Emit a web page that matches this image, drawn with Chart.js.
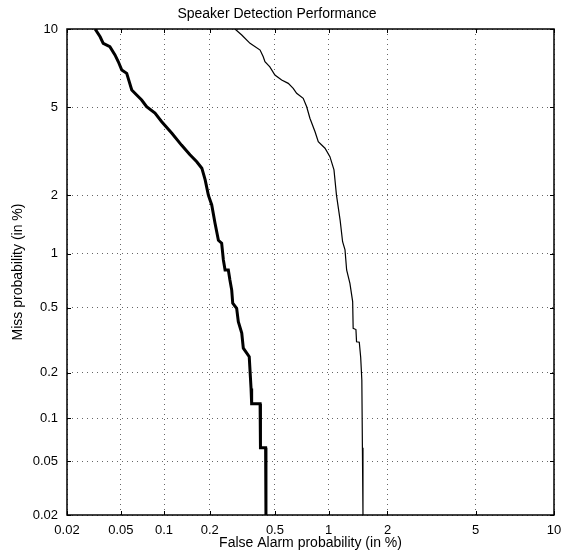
<!DOCTYPE html>
<html>
<head>
<meta charset="utf-8">
<script src="https://cdn.jsdelivr.net/npm/chart.js@4.4.0/dist/chart.umd.min.js"></script>
<style>
  html, body { margin: 0; padding: 0; background: #fff; }
  #wrap { width: 561px; height: 556px; position: relative; }
</style>
</head>
<body>
<div id="wrap"><canvas id="c" width="561" height="556"></canvas></div>
<script>
// ---- data (percent) ----
const tickValues = [0.02, 0.05, 0.1, 0.2, 0.5, 1, 2, 5, 10];
const tickLabels = ['0.02', '0.05', '0.1', '0.2', '0.5', '1', '2', '5', '10'];

const sys1FA = [0.0325, 0.0354, 0.0373, 0.0417, 0.0454, 0.048, 0.0508, 0.0551, 0.0598, 0.0648, 0.0702, 0.076, 0.0868, 0.0965, 0.113, 0.131, 0.149, 0.165, 0.178, 0.187, 0.196, 0.206, 0.216, 0.227, 0.238, 0.244, 0.25, 0.262, 0.268, 0.275, 0.279, 0.295, 0.302, 0.317, 0.324, 0.352, 0.361, 0.364, 0.409, 0.411, 0.441, 0.443];
const sys1Miss = [10, 9.38, 8.88, 8.63, 8.05, 7.58, 7.05, 6.84, 5.88, 5.61, 5.35, 5.02, 4.72, 4.34, 3.87, 3.43, 3.10, 2.88, 2.69, 2.37, 2.00, 1.79, 1.45, 1.18, 1.14, 0.926, 0.817, 0.817, 0.718, 0.63, 0.529, 0.495, 0.412, 0.352, 0.285, 0.252, 0.158, 0.125, 0.125, 0.0625, 0.0625, 0.02];

const sys2FA = [0.288, 0.317, 0.356, 0.409, 0.427, 0.437, 0.467, 0.50, 0.547, 0.597, 0.637, 0.666, 0.725, 0.758, 0.79, 0.843, 0.878, 0.955, 1.015, 1.067, 1.10, 1.15, 1.185, 1.22, 1.244, 1.294, 1.337, 1.345, 1.39, 1.40, 1.446, 1.47, 1.49, 1.50, 1.51, 1.51];
const sys2Miss = [10, 9.52, 8.88, 8.39, 7.92, 7.58, 7.25, 6.74, 6.44, 6.25, 5.97, 5.70, 5.44, 5.02, 4.49, 3.93, 3.55, 3.32, 3.04, 2.64, 2.00, 1.50, 1.16, 1.05, 0.817, 0.688, 0.541, 0.376, 0.37, 0.312, 0.31, 0.25, 0.179, 0.0625, 0.0268, 0.02];

// ---- normal deviate (probit) transform for the DET axes ----
function probit(p) {
  const a = [-3.969683028665376e+01, 2.209460984245205e+02, -2.759285104469687e+02, 1.383577518672690e+02, -3.066479806614716e+01, 2.506628277459239e+00];
  const b = [-5.447609879822406e+01, 1.615858368580409e+02, -1.556989798598866e+02, 6.680131188771972e+01, -1.328068155288572e+01];
  const c = [-7.784894002430293e-03, -3.223964580411365e-01, -2.400758277161838e+00, -2.549732516309787e+00, 4.374664141464968e+00, 2.938163982698783e+00];
  const d = [7.784695709041462e-03, 3.224671290700398e-01, 2.445134137142996e+00, 3.754408661907416e+00];
  const plow = 0.02425, phigh = 1 - plow;
  let q, r;
  if (p < plow) {
    q = Math.sqrt(-2 * Math.log(p));
    return (((((c[0]*q+c[1])*q+c[2])*q+c[3])*q+c[4])*q+c[5]) / ((((d[0]*q+d[1])*q+d[2])*q+d[3])*q+1);
  } else if (p <= phigh) {
    q = p - 0.5; r = q*q;
    return (((((a[0]*r+a[1])*r+a[2])*r+a[3])*r+a[4])*r+a[5])*q / (((((b[0]*r+b[1])*r+b[2])*r+b[3])*r+b[4])*r+1);
  } else {
    q = Math.sqrt(-2 * Math.log(1 - p));
    return -(((((c[0]*q+c[1])*q+c[2])*q+c[3])*q+c[4])*q+c[5]) / ((((d[0]*q+d[1])*q+d[2])*q+d[3])*q+1);
  }
}
const dev = pct => probit(pct / 100);
const toPoints = (xs, ys) => xs.map((x, i) => ({ x: dev(x), y: dev(ys[i]) }));

const FONT = '"Liberation Sans", Arial, Helvetica, sans-serif';
const axisMin = dev(tickValues[0]);
const axisMax = dev(tickValues[tickValues.length - 1]);

const framePlugin = {
  id: 'frame',
  afterDraw(chart) {
    const { ctx, chartArea: ca, scales } = chart;
    ctx.save();
    ctx.strokeStyle = '#000';
    ctx.lineWidth = 1;
    const tl = 4;
    ctx.beginPath();
    scales.x.ticks.forEach(t => {
      const px = Math.round(scales.x.getPixelForValue(t.value)) + 0.5;
      ctx.moveTo(px, ca.bottom); ctx.lineTo(px, ca.bottom - tl);
      ctx.moveTo(px, ca.top); ctx.lineTo(px, ca.top + tl);
    });
    scales.y.ticks.forEach(t => {
      const py = Math.round(scales.y.getPixelForValue(t.value)) + 0.5;
      ctx.moveTo(ca.left, py); ctx.lineTo(ca.left + tl, py);
      ctx.moveTo(ca.right, py); ctx.lineTo(ca.right - tl, py);
    });
    ctx.stroke();
    ctx.lineWidth = 1.5;
    ctx.strokeRect(ca.left, ca.top, ca.right - ca.left, ca.bottom - ca.top);
    ctx.restore();
  }
};

const gridOpts = { color: 'rgba(0,0,0,0.6)', lineWidth: 1, drawTicks: false };
const borderOpts = { display: false, dash: [1, 4] };

new Chart(document.getElementById('c'), {
  type: 'line',
  data: {
    datasets: [
      { label: 'System 1', data: toPoints(sys1FA, sys1Miss), borderColor: '#000', borderWidth: 3, pointRadius: 0, tension: 0, fill: false },
      { label: 'System 2', data: toPoints(sys2FA, sys2Miss), borderColor: '#000', borderWidth: 1.2, pointRadius: 0, tension: 0, fill: false }
    ]
  },
  options: {
    responsive: false,
    animation: false,
    layout: { padding: { left: 0, right: 7, top: 0, bottom: 0 } },
    plugins: {
      legend: { display: false },
      tooltip: { enabled: false },
      title: {
        display: true,
        text: 'Speaker Detection Performance',
        color: '#000',
        font: { family: FONT, size: 14, weight: 'normal' },
        padding: { top: 6, bottom: 6.2 }
      }
    },
    scales: {
      x: {
        type: 'linear',
        min: axisMin, max: axisMax,
        afterBuildTicks: s => { s.ticks = tickValues.map(v => ({ value: dev(v) })); },
        afterFit: s => { s.height = 41; s.paddingLeft = 0; s.paddingRight = 0; },
        ticks: {
          autoSkip: false, maxRotation: 0, padding: 8, color: '#000',
          font: { family: FONT, size: 13 },
          callback: (v, i) => tickLabels[i]
        },
        grid: gridOpts,
        border: borderOpts,
        title: {
          display: true, text: 'False Alarm probability (in %)', color: '#000',
          font: { family: FONT, size: 14 }, padding: { top: 0, bottom: 4.6 }
        }
      },
      y: {
        type: 'linear',
        min: axisMin, max: axisMax,
        afterBuildTicks: s => { s.ticks = tickValues.map(v => ({ value: dev(v) })); },
        afterFit: s => { s.width = 67; s.paddingTop = 0; s.paddingBottom = 0; },
        ticks: {
          autoSkip: false, padding: 9, color: '#000',
          font: { family: FONT, size: 13 },
          callback: (v, i) => tickLabels[i]
        },
        grid: gridOpts,
        border: borderOpts,
        title: {
          display: true, text: 'Miss probability (in %)', color: '#000',
          font: { family: FONT, size: 14 }, padding: { top: 9.6, bottom: 0 }
        }
      }
    }
  },
  plugins: [framePlugin]
});
</script>
</body>
</html>
